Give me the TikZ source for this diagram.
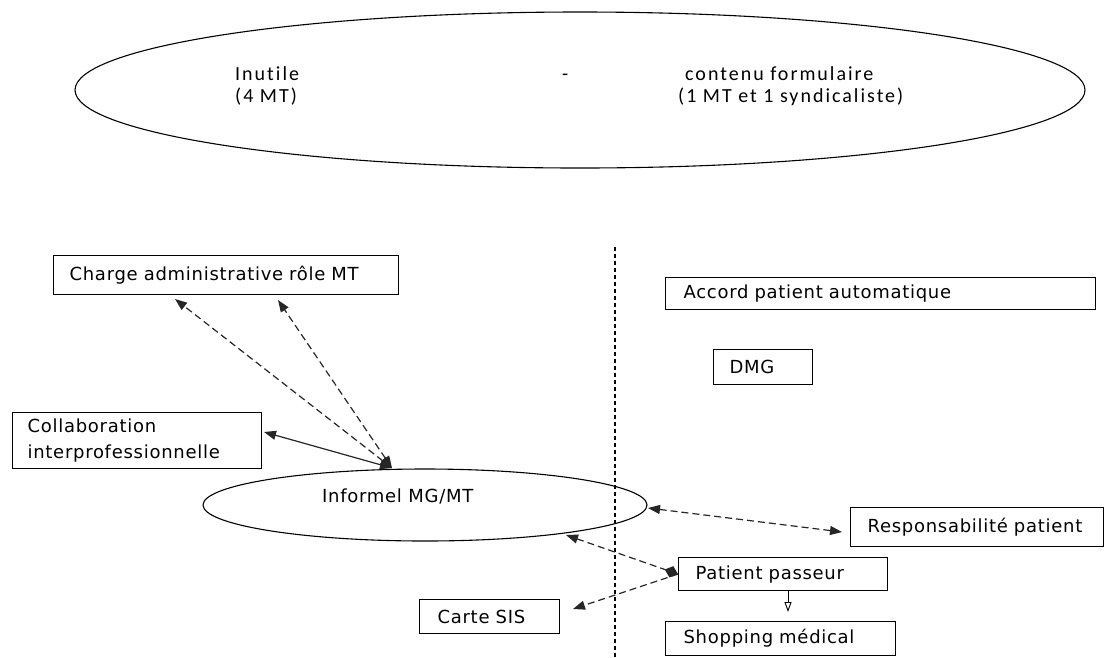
\documentclass[tikz,border=0pt]{standalone}
\usepackage{fontspec}
\usetikzlibrary{shapes.geometric,arrows.meta,calc}
\newfontfamily\boxfont[LetterSpace=4]{DejaVu Sans}
\newfontfamily\headfont[LetterSpace=10,Ligatures={NoCommon,NoDiscretionary,NoRare}]{Carlito}
\tikzset{
  ar/.tip={Triangle[length=12pt,width=9pt]},
  dm/.tip={Diamond[length=14pt,width=12pt]},
  opn/.tip={Triangle[open,length=10pt,width=7pt]}}
\begin{document}
\begin{tikzpicture}[x=1pt,y=-1pt,
  box/.style={draw, line width=1.2pt, rectangle, anchor=north west, align=left,
    inner ysep=0pt, font=\boxfont\fontsize{18}{26}\selectfont},
  oval/.style={draw, line width=1.1pt, ellipse, inner sep=0pt},
  btxt/.style={anchor=base west, inner sep=0pt, font=\boxfont\fontsize{18}{26}\selectfont},
  htxt/.style={anchor=base west, inner sep=0pt, font=\headfont\fontsize{20}{24}\selectfont},
  link/.style={line width=1.2pt, draw=black!85},
  dlink/.style={link, dash pattern=on 7pt off 4pt}]
\useasboundingbox (0,0) rectangle (1105,657);

% header oval and its texts
\node[oval, minimum width=1010pt, minimum height=156pt] (head) at (580,90) {};
\node[htxt] (h1) at (235,80) {Inutile};
\node[htxt] (h2) at (235,102) {(4 MT)};
\node[htxt] (h3) at (562,80) {-};
\node[htxt] (h4) at (685,80) {contenu formulaire};
\node[htxt] (h5) at (678,102) {(1 MT et 1 syndicaliste)};

% separator
\coordinate (sepT) at (615,247);
\coordinate (sepB) at (615,657);
\draw[line width=1.3pt, dash pattern=on 4pt off 3pt] (sepT) -- (sepB);

% boxes
\node[box, minimum height=39pt, inner xsep=16pt, text width=313pt] (charge) at (53,255)
  {\mbox{Charge administrative rôle MT}};
\node[box, minimum height=32pt, inner xsep=18pt, text width=394pt] (accord) at (665,277)
  {\mbox{Accord patient automatique}};
\node[box, minimum height=35pt, inner xsep=16pt, text width=67pt] (dmg) at (713,349)
  {DMG};
\node[box, minimum height=56pt, inner xsep=15pt, text width=219pt] (collab) at (12,412)
  {Collaboration\\ \mbox{interprofessionnelle}};
\node[box, minimum height=39pt, inner xsep=17pt, text width=219pt] (resp) at (850,507)
  {\mbox{Responsabilité patient}};
\node[box, minimum height=33pt, inner xsep=17pt, text width=175pt] (passeur) at (678,557)
  {\mbox{Patient passeur}};
\node[box, minimum height=34pt, inner xsep=18pt, text width=194pt] (shop) at (665,621)
  {\mbox{Shopping médical}};
\node[box, minimum height=34pt, inner xsep=18pt, text width=104pt] (sis) at (419,599)
  {\mbox{Carte SIS}};

% central oval
\node[oval, minimum width=444pt, minimum height=72pt] (inf) at (425,505) {};
\node[btxt] (inftxt) at (322,502) {Informel MG/MT};

% connector end points
\coordinate (hub) at (392,468);
\coordinate (c1) at (175,299);
\coordinate (c2) at (278,300);
\coordinate (cc) at (264,432);
\coordinate (ir) at (648,508);
\coordinate (rl) at (842,532);
\coordinate (ib) at (566,535);
\coordinate (sr) at (573,609);
\coordinate (ps) at (788,591);
\coordinate (st) at (788,612);

% connectors
\draw[dlink, {ar}-{ar}] (hub) -- (c1);
\draw[dlink, {ar}-{ar}] (hub) -- (c2);
\draw[link, {ar}-{ar}] (hub) -- (cc);
\draw[dlink, {ar}-{ar}] (ir) -- (rl);
\draw[dlink, {ar}-{dm}] (ib) -- (passeur.west);
\draw[dlink, -{ar}] (passeur.west) -- (sr);
\draw[line width=0.9pt, -{opn}] (ps) -- (st);
\end{tikzpicture}
\end{document}
